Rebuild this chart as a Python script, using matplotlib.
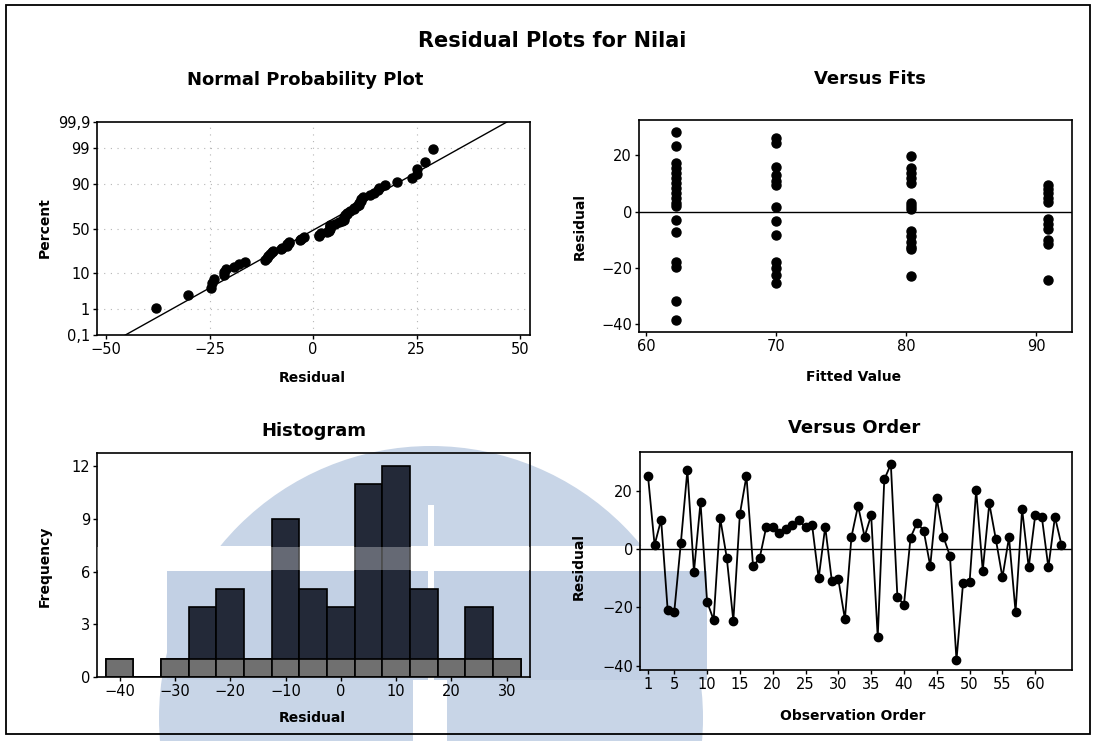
import matplotlib
matplotlib.use("Agg")
import matplotlib.pyplot as plt
import numpy as np
from matplotlib.patches import Circle, Rectangle
from statistics import NormalDist

residuals = [25, 1.4, 10, -21, -21.5, 2, 27, -7.8, 16, -18,
             -24.3, 10.5, -3, -24.6, 12, 25, -5.8, -3.2, 7.4, 7.4,
             5.4, 7, 8.2, 9.9, 7.4, 8.2, -10, 7.6, -10.8, -10.4,
             -24, 4.2, 14.8, 4.2, 11.6, -30.2, 23.8, 29, -16.5, -19,
             3.9, 9, 6.3, -5.8, 17.3, 4.2, -2.3, -38, -11.7, -11.2,
             20.2, -7.4, 15.6, 3.3, -9.7, 4, -21.5, 13.7, -6.3, 11.6,
             11, -6.3, 11, 1.4]

# versus fits: residuals by fitted level
fit_levels = [62.3, 70.0, 80.4, 90.9]
fit_res_62 = [28.2, 23.1, 17.2, 15.4, 13.6, 11.8, 10, 8.3, 6.5, 4.7, 3, 2,
              -3, -7.1, -17.8, -19.5, -31.7, -38.5]
fit_res_70 = [26, 24.5, 16, 13, 11, 9.5, 1.5, -3.3, -8.3, -17.8, -20, -22.5, -25.4]
fit_res_80 = [19.8, 15.4, 13.6, 11.8, 10.3, 3, 2, 0.8, -6.9, -8.6, -10.7,
              -12.4, -13.3, -22.7]
fit_res_91 = [9.5, 8, 6.5, 5, 3.5, -2.5, -4.5, -6, -10, -11.5, -24.3]

# histogram bins (midpoints) and counts
hist_mid = [-40, -35, -30, -25, -20, -15, -10, -5, 0, 5, 10, 15, 20, 25, 30]
hist_count = [1, 0, 1, 4, 5, 1, 9, 5, 4, 11, 12, 5, 1, 4, 1]

pct_ticks = [0.1, 1, 10, 50, 90, 99, 99.9]
pct_labels = ["0,1", "1", "10", "50", "90", "99", "99,9"]
order_ticks = [1, 5, 10, 15, 20, 25, 30, 35, 40, 45, 50, 55, 60]

W, H = 1096, 741
nd = NormalDist()


def box(l, t, r, b):
    return [l / W, 1 - b / H, (r - l) / W, (b - t) / H]


def ftext(x, y, s, size, rot=0, weight="bold"):
    fig.text(x / W, 1 - y / H, s, ha="center", va="center", fontsize=size,
             fontweight=weight, rotation=rot)


def style(ax):
    for sp in ax.spines.values():
        sp.set_linewidth(1.2)
    ax.tick_params(direction="out", length=3, width=1, labelsize=10.5, pad=2)
    ax.set_facecolor("none")


fig = plt.figure(figsize=(W / 100, H / 100), dpi=100)

# background watermark + frame
bg = fig.add_axes([0, 0, 1, 1])
bg.set_xlim(0, W)
bg.set_ylim(H, 0)
bg.axis("off")
wm = "#c8d5e7"
bg.add_patch(Circle((431, 718), 272, color=wm, lw=0))
bg.add_patch(Rectangle((167, 571), 540, 109, color="#c2d0e4", lw=0))
bg.add_patch(Rectangle((140, 546), 600, 25, color="white", lw=0))
bg.add_patch(Rectangle((413, 680), 34, 70, color="white", lw=0))
bg.add_patch(Rectangle((428, 505), 6, 175, color="white", lw=0))
bg.add_patch(Rectangle((6, 5), 1084, 729, fill=False, ec="black", lw=1.3))

# normal probability plot
ax1 = fig.add_axes(box(97, 122, 530, 335))
style(ax1)
srt = np.sort(residuals)
n = len(srt)
probs = [(i + 1 - 0.3) / (n + 0.4) for i in range(n)]
zq = [nd.inv_cdf(p) for p in probs]
mu, sd = np.mean(residuals), np.std(residuals, ddof=1)
xl = np.array([-52.2, 52.4])
ax1.plot(xl, (xl - mu) / sd, color="black", lw=1)
ax1.plot(srt, zq, "o", color="black", ms=6.5)
ax1.set_xlim(-52.2, 52.4)
zlim = nd.inv_cdf(0.999)
ax1.set_ylim(-zlim, zlim)
ax1.set_yticks([nd.inv_cdf(p / 100) for p in pct_ticks])
ax1.set_yticklabels(pct_labels)
ax1.set_xticks([-50, -25, 0, 25, 50])
for p in pct_ticks[1:-1]:
    ax1.axhline(nd.inv_cdf(p / 100), color="#b5b5b5", lw=0.8, ls=(0, (1, 5)), zorder=0)
for xv in [-25, 0, 25]:
    ax1.axvline(xv, color="#b5b5b5", lw=0.8, ls=(0, (1, 5)), zorder=0)

# versus fits
ax2 = fig.add_axes(box(639, 120, 1072, 332))
style(ax2)
for lev, res in zip(fit_levels, [fit_res_62, fit_res_70, fit_res_80, fit_res_91]):
    ax2.plot([lev] * len(res), res, "o", color="black", ms=6.5)
ax2.axhline(0, color="black", lw=1)
ax2.set_xlim(59.46, 92.77)
ax2.set_ylim(-42.7, 32.5)
ax2.set_xticks([60, 70, 80, 90])
ax2.set_yticks([-40, -20, 0, 20])

# histogram
ax3 = fig.add_axes(box(97, 453, 530, 677))
style(ax3)
ax3.bar(hist_mid, hist_count, width=5, color="#232938", edgecolor="black", lw=1.2)
ax3.bar(hist_mid, np.minimum(hist_count, 1), width=5, color="#707070",
        edgecolor="black", lw=1.2)
ax3.axhspan(6.1, 7.4, color="white", alpha=0.3, lw=0, zorder=3)
ax3.set_xlim(-44.1, 34.2)
ax3.set_ylim(0, 12.75)
ax3.set_xticks([-40, -30, -20, -10, 0, 10, 20, 30])
ax3.set_yticks([0, 3, 6, 9, 12])

# versus order
ax4 = fig.add_axes(box(640, 452, 1072, 670))
style(ax4)
obs = np.arange(1, len(residuals) + 1)
ax4.axhline(0, color="black", lw=1)
ax4.plot(obs, residuals, "-o", color="black", lw=1.3, ms=6)
ax4.set_xlim(-0.22, 65.6)
ax4.set_ylim(-41.4, 33.2)
ax4.set_xticks(order_ticks)
ax4.set_yticks([-40, -20, 0, 20])

# titles and labels
ftext(552, 41, "Residual Plots for Nilai", 15)
ftext(305, 80, "Normal Probability Plot", 13)
ftext(870, 79, "Versus Fits", 13)
ftext(314, 431, "Histogram", 13)
ftext(854, 428, "Versus Order", 13)
ftext(312, 378, "Residual", 10)
ftext(854, 377, "Fitted Value", 10)
ftext(312, 718, "Residual", 10)
ftext(853, 716, "Observation Order", 10)
ftext(45, 228, "Percent", 10, rot=90)
ftext(580, 226, "Residual", 10, rot=90)
ftext(45, 566, "Frequency", 10, rot=90)
ftext(579, 566, "Residual", 10, rot=90)

fig.savefig("out.png", dpi=100)
